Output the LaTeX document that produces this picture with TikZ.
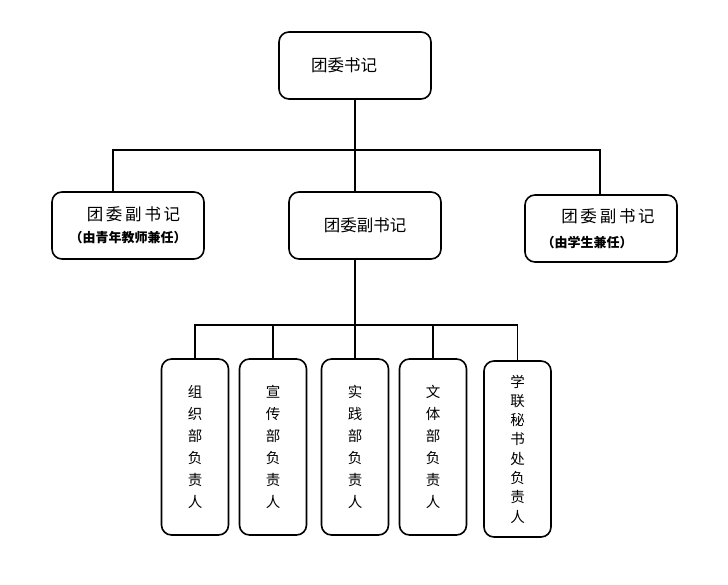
\documentclass[tikz,border=0pt]{standalone}
\usepackage{fontspec}
\newfontfamily\cjk{Noto Sans CJK SC}
\usetikzlibrary{positioning}
\tikzset{
  headbox/.style={draw, line width=1.6pt, rounded corners=10pt, align=center,
    minimum width=152pt, minimum height=67pt, inner sep=2pt,
    font=\cjk\fontsize{16.5}{22}\selectfont},
  deptbox/.style={draw, line width=1.6pt, rounded corners=10pt, align=center,
    minimum width=67pt, minimum height=176pt, inner sep=2pt,
    font=\cjk\fontsize{14.5}{22}\selectfont},
  link/.style={line width=1.6pt}
}
\newcommand{\notesize}{\fontsize{13}{15}\selectfont\bfseries}

\begin{document}
\begin{tikzpicture}[x=1pt, y=-1pt]
  \useasboundingbox (0,0) rectangle (728,585);
  % top level
  \node[headbox] (sec) at (355,65.5) {\raisebox{-4pt}{团委书记}\hspace*{22pt}};
  % second level
  \node[headbox] (lft) at (128,225.5)
    {\hspace*{11pt}团\,委\,副\,书\,记\\[0pt]{\notesize （由青年教师兼任）}};
  \node[headbox] (mid) at (365,225.5) {团委副书记};
  \node[headbox] (rgt) at (601,228.5)
    {\hspace*{14pt}团\,委\,副\,书\,记\\[3pt]{\notesize （由学生兼任）}\hspace*{28pt}};
  % departments
  \foreach \x/\name/\txt in {195/m1/{组\\织\\部\\负\\责\\人},
                             273/m2/{宣\\传\\部\\负\\责\\人},
                             355/m3/{实\\践\\部\\负\\责\\人},
                             433/m4/{文\\体\\部\\负\\责\\人}} {
    \node[deptbox] (\name) at (\x,447) {\txt};
  }
  \node[deptbox, font=\cjk\fontsize{14.5}{19.3}\selectfont] (m5) at (517.5,449)
    {学\\联\\秘\\书\\处\\负\\责\\人};
  % connectors
  \coordinate (hub1) at (sec.south |- 0,150);
  \draw[link] (sec.south) -- (sec.south |- mid.north);
  \draw[link] ([xshift=-15pt]lft.north) |- (hub1) -| ([xshift=-1pt]rgt.north);
  \coordinate (hub2) at (sec.south |- 0,325);
  \draw[link] (sec.south |- mid.south) -- (hub2);
  \draw[link] (m1.north) |- (hub2) -| (m5.north);
  \foreach \name in {m2,m3,m4} {
    \draw[link] (\name.north) -- (\name.north |- hub2);
  }
\end{tikzpicture}
\end{document}
